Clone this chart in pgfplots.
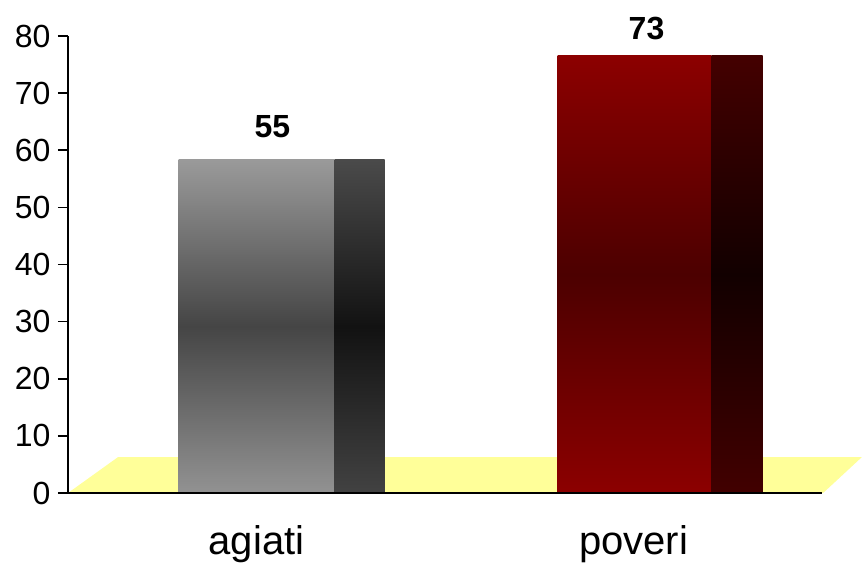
\documentclass[border=0pt]{standalone}
\usepackage{pgfplots}
\pgfplotsset{compat=1.18}
\usepackage{fontspec}
\setmainfont{Liberation Sans}
\definecolor{floorc}{HTML}{FFFF99}
\definecolor{gtop}{HTML}{9A9A9A}
\definecolor{gmid}{HTML}{454545}
\definecolor{gbot}{HTML}{929292}
\definecolor{gstop}{HTML}{4A4A4A}
\definecolor{gsmid}{HTML}{121212}
\definecolor{gsbot}{HTML}{424242}
\definecolor{rtop}{HTML}{8C0000}
\definecolor{rmid}{HTML}{4C0000}
\definecolor{rbot}{HTML}{8C0000}
\definecolor{rstop}{HTML}{440000}
\definecolor{rsmid}{HTML}{120000}
\definecolor{rsbot}{HTML}{420000}
\begin{document}
\begin{tikzpicture}
\useasboundingbox (0,0) rectangle (862pt,564pt);
\begin{axis}[
  at={(68pt,71pt)}, anchor=south west,
  scale only axis, width=754pt, height=457pt,
  xmin=-0.5, xmax=1.5, ymin=0, ymax=80,
  clip=false, axis on top,
  axis x line*=bottom, axis y line*=left,
  axis line style={line width=1.6pt, black},
  tick align=outside,
  ytick={0,10,...,80},
  yticklabel style={font=\fontsize{32}{32}\selectfont, xshift=-4pt},
  xtick={0,1}, xticklabels={agiati,poveri},
  xtick style={draw=none},
  xticklabel style={font=\fontsize{40}{40}\selectfont, anchor=base, yshift=-52pt},
  extra x ticks={-0.5,0.5,1.5}, extra x tick labels={},
  extra x tick style={major tick length=9pt, tick style={draw=black, line width=1.6pt}},
  ytick style={line width=1.6pt, black},
  major tick length=10pt,
  /pgf/number format/assume math mode=true,
]
\fill[floorc] (axis cs:-0.5,0) -- (axis cs:-0.367,6.3) -- (axis cs:1.606,6.3) -- (axis cs:1.503,0) -- cycle;
% front faces
\addplot[ybar, bar width=156pt, bar shift=0pt, draw=none,
  top color=gtop, bottom color=gbot, middle color=gmid]
  coordinates {(0,58.3)};
\addplot[ybar, bar width=50pt, bar shift=103pt, draw=none,
  top color=gstop, bottom color=gsbot, middle color=gsmid]
  coordinates {(0,58.3)};
\addplot[ybar, bar width=154pt, bar shift=1pt, draw=none,
  top color=rtop, bottom color=rbot, middle color=rmid]
  coordinates {(1,76.5)};
\addplot[ybar, bar width=51pt, bar shift=103.5pt, draw=none,
  top color=rstop, bottom color=rsbot, middle color=rsmid]
  coordinates {(1,76.5)};
% value labels
\addplot[draw=none, mark=none, point meta=explicit symbolic, nodes near coords,
  every node near coord/.style={font=\bfseries\fontsize{32}{32}\selectfont, anchor=base, xshift=16pt, yshift=22pt, text=black}]
  coordinates {(0,58.3) [55]};
\addplot[draw=none, mark=none, point meta=explicit symbolic, nodes near coords,
  every node near coord/.style={font=\bfseries\fontsize{32}{32}\selectfont, anchor=base, xshift=13pt, yshift=16pt, text=black}]
  coordinates {(1,76.5) [73]};
\end{axis}
\end{tikzpicture}
\end{document}
